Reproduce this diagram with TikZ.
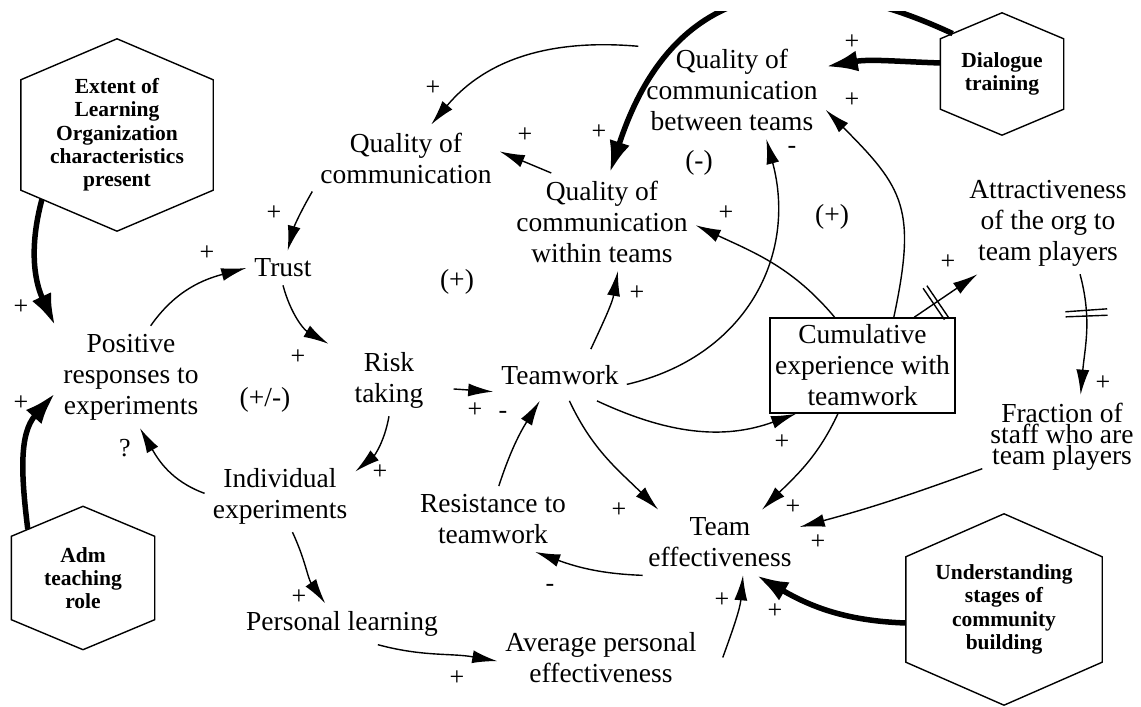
\documentclass[tikz,border=0pt]{standalone}
\usepackage{fontspec}
\setmainfont{Liberation Serif}
\usetikzlibrary{arrows.meta,calc}

\begin{document}
\begin{tikzpicture}[x=1pt,y=1pt]
		\tikzstyle{every node}+=[inner sep=8pt]
		\tikzstyle{var}=[align=center,font=\fontsize{27.5}{31}\selectfont]
		\tikzstyle{hexa}=[align=center,inner sep=0pt,font=\fontsize{21.5}{23.3}\selectfont\bfseries]
		\tikzstyle{pol}=[inner sep=0pt,font=\fontsize{26}{26}\selectfont]
		\tikzstyle{link}=[line width=1.4pt,-{Latex[length=25pt,width=13pt]}]
		\tikzstyle{heavy}=[line width=5.5pt,-{Latex[length=32pt,width=21pt]}]
		\tikzstyle{delaybar}=[sloped,draw,line width=1.4pt,inner sep=0pt,minimum width=0pt,minimum height=38pt]
		\useasboundingbox (0,0) rectangle (1141,707);
		\begin{scope}
		\clip (0,0) rectangle (1141,695);
		\node[var] (qc) at (406,549) {Quality of\\communication};
		\node[var] (qb) at (732,617) {Quality of\\communication\\between teams};
		\node[var] (qw) at (602,485) {Quality of\\communication\\within teams};
		\node[var] (trust) at (283,439) {Trust};
		\node[var] (pr) at (131,330) {Positive\\responses to\\experiments};
		\node[var] (risk) at (389,327) {Risk\\taking};
		\node[var,inner ysep=16pt] (team) at (560,332) {Teamwork};
		\node[var,draw,line width=1.4pt,inner sep=2pt,minimum width=185pt,minimum height=95pt] (ce) at (862.5,341.5) {Cumulative\\experience with\\teamwork};
		\node[var] (attr) at (1048,484) {Attractiveness\\of the org to\\team players};
		\node[var,font=\fontsize{27.5}{21}\selectfont] (fs) at (1062,270.5) {Fraction of\\staff who are\\team players};
		\node[var] (te) at (720,164.5) {Team\\effectiveness};
		\node[var] (rt) at (493,188) {Resistance to\\teamwork};
		\node[var] (ie) at (280,211) {Individual\\experiments};
		\node[var] (pl) at (342,83) {Personal learning};
		\node[var] (ap) at (601,49.5) {Average personal\\effectiveness};
		\node[hexa,minimum width=192pt,minimum height=192pt] (el) at (117,572) {Extent of\\Learning\\Organization\\characteristics\\present};
		\node[hexa,minimum width=123pt,minimum height=122pt] (dt) at (1002,633) {Dialogue\\training};
		\node[hexa,minimum width=143pt,minimum height=143pt] (ad) at (83,129) {Adm\\teaching\\role};
		\node[hexa,minimum width=196pt,minimum height=191pt] (us) at (1004,97.5) {Understanding\\stages of\\community\\building};
		\draw [line width=1.4pt] (el.north) -- ([yshift=-41pt]el.north east) -- ([yshift=41pt]el.south east) -- (el.south) -- ([yshift=41pt]el.south west) -- ([yshift=-41pt]el.north west) -- cycle;
		\draw [line width=1.4pt] (dt.north) -- ([yshift=-26pt]dt.north east) -- ([yshift=26pt]dt.south east) -- (dt.south) -- ([yshift=26pt]dt.south west) -- ([yshift=-26pt]dt.north west) -- cycle;
		\draw [line width=1.4pt] (ad.north) -- ([yshift=-30pt]ad.north east) -- ([yshift=30pt]ad.south east) -- (ad.south) -- ([yshift=30pt]ad.south west) -- ([yshift=-30pt]ad.north west) -- cycle;
		\draw [line width=1.4pt] (us.north) -- ([yshift=-43pt]us.north east) -- ([yshift=43pt]us.south east) -- (us.south) -- ([yshift=43pt]us.south west) -- ([yshift=-43pt]us.north west) -- cycle;
		\draw [link] (qb.155) to[out=175,in=50] (qc.53);
		\draw [link] (qw.136) -- (qc.4);
		\draw [link] (qc.south west) to[out=240,in=75] (trust.75);
		\draw [link] (pr.69) to[out=55,in=195] (trust.west);
		\draw [link] (trust.south) to[out=285,in=150] ([xshift=-18pt]risk.north west);
		\draw [heavy] ($(el.south)!0.78!([yshift=41pt]el.south west)$) to[out=255,in=115] (pr.north west);
		\draw [heavy] ($(ad.north)!0.77!([yshift=-30pt]ad.north west)$) to[out=97,in=228] (pr.192);
		\draw [link] (risk.south) to[out=260,in=40] (ie.18);
		\draw [link] (ie.178) to[out=160,in=300] (pr.280);
		\draw [link] (ie.289) to[out=295,in=125] (pl.129);
		\draw [link] (pl.330) to[out=345,in=170] (ap.182);
		\draw [link,shorten <=22pt] (risk.350) -- (team.194);
		\draw [link] (rt.80) to[out=72,in=238] (team.232);
		\draw [link] (team.40) to[out=65,in=260] (qw.288);
		\draw [link] (team.352) to[out=13,in=285,looseness=1.1] (qb.305);
		\draw [link] (team.325) to[out=335,in=200] (ce.216);
		\draw [link] (team.290) to[out=295,in=135] (te.152);
		\draw [link] (ce.120) to[out=130,in=335] (qw.358);
		\draw [link] (ce.57) to[out=78,in=315,looseness=1.3] (qb.348);
		\draw [link] (ce.43) -- node[delaybar,pos=0.31]{} node[delaybar,pos=0.37]{} (attr.216);
		\draw [link] (attr.302) to[out=285,in=85] node[delaybar,pos=0.29,minimum height=42pt]{} node[delaybar,pos=0.34,minimum height=42pt]{} (fs.66);
		\draw [link] (ce.243) to[out=245,in=45] (te.38);
		\draw [link] (fs.202) to[out=200,in=15] (te.11);
		\draw [heavy] ([yshift=-13.5pt]us.west) to[out=178,in=330] (te.318);
		\draw [link] ([xshift=18pt]ap.east) to[out=70,in=265] (te.305);
		\draw [link] (te.203) to[out=178,in=340] (rt.322);
		\draw [heavy] ([yshift=11pt]dt.west) to[out=178,in=10] (qb.14);
		\draw [heavy] ($(dt.north)!0.8!([yshift=-26pt]dt.north west)$) to[out=155,in=72,looseness=1.3] (qw.81);
		\node[var] (loop1) at (457,425) {(+)};
		\node[var] (loop2) at (699,544) {(-)};
		\node[var] (loop3) at (832,490) {(+)};
		\node[var] (loop4) at (265,307) {(+/-)};
		\node[pol] (sgn1) at (433,619) {+};
		\node[pol] (sgn2) at (525,572) {+};
		\node[pol] (sgn3) at (274,494) {+};
		\node[pol] (sgn4) at (207,454) {+};
		\node[pol] (sgn5) at (298,350) {+};
		\node[pol] (sgn6) at (21,400) {+};
		\node[pol] (sgn7) at (21,304) {+};
		\node[pol] (sgn8) at (380,235) {+};
		\node[pol] (sgn9) at (125,259) {?};
		\node[pol] (sgn10) at (299,110) {+};
		\node[pol] (sgn11) at (457,29) {+};
		\node[pol] (sgn12) at (475,297) {+};
		\node[pol] (sgn13) at (503,292) {-};
		\node[pol] (sgn14) at (637,414) {+};
		\node[pol] (sgn15) at (792,557) {-};
		\node[pol] (sgn16) at (782,265) {+};
		\node[pol] (sgn17) at (619,197) {+};
		\node[pol] (sgn18) at (726,494) {+};
		\node[pol] (sgn19) at (852,607) {+};
		\node[pol] (sgn20) at (948,445) {+};
		\node[pol] (sgn21) at (1103,324) {+};
		\node[pol] (sgn22) at (793,200) {+};
		\node[pol] (sgn23) at (818,165) {+};
		\node[pol] (sgn24) at (775,96) {+};
		\node[pol] (sgn25) at (722,107) {+};
		\node[pol] (sgn26) at (550,119) {-};
		\node[pol] (sgn27) at (852,665) {+};
		\node[pol] (sgn28) at (599,575) {+};
		\end{scope}
		\end{tikzpicture}
\end{document}
